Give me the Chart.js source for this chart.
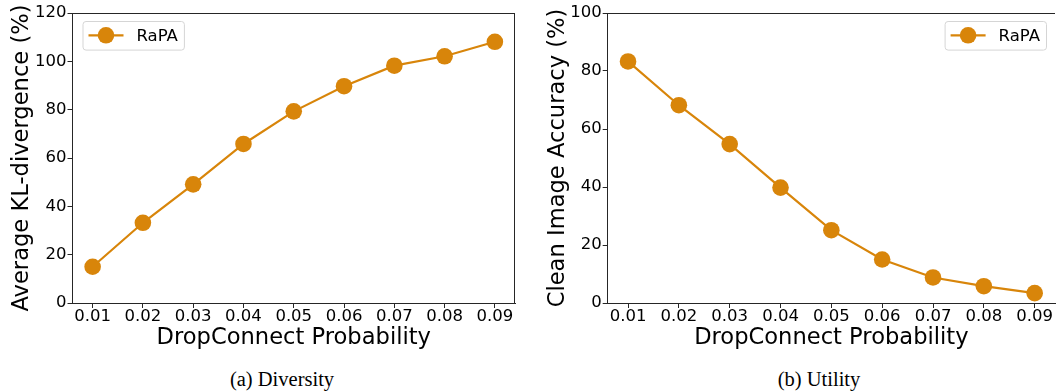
<!DOCTYPE html>
<html><head><meta charset="utf-8">
<script src="https://cdn.jsdelivr.net/npm/chart.js@4.4.1/dist/chart.umd.min.js"></script>
<style>
body{margin:0;background:#fff;width:1056px;height:392px;overflow:hidden;position:relative;}
canvas{position:absolute;top:0}
.cap{position:absolute;font-family:"Liberation Serif","Times New Roman",serif;font-size:20.5px;line-height:22px;text-align:center;width:300px;color:#000}
</style></head><body>
<canvas id="c1" width="530" height="360" style="left:0"></canvas>
<canvas id="c2" width="526" height="360" style="left:530px"></canvas>
<div class="cap" style="left:132px;top:368px">(a) Diversity</div>
<div class="cap" style="left:669px;top:368px">(b) Utility</div>
<script>
const dropProb = [0.01, 0.02, 0.03, 0.04, 0.05, 0.06, 0.07, 0.08, 0.09];
const xTickLabels = ['0.01','0.02','0.03','0.04','0.05','0.06','0.07','0.08','0.09'];
const klDivergence = [15.0, 33.2, 49.1, 65.8, 79.3, 89.7, 98.2, 102.1, 108.1];
const cleanAccuracy = [83.3, 68.2, 54.8, 39.8, 25.1, 15.0, 8.8, 5.8, 3.4];
const yTicksA = [0, 20, 40, 60, 80, 100, 120];
const yTicksB = [0, 20, 40, 60, 80, 100];
const seriesName = 'RaPA';
const xTitle = 'DropConnect Probability';
const yTitleA = 'Average KL-divergence (%)';
const yTitleB = 'Clean Image Accuracy (%)';

const ORANGE = '#d8850a';
const SPINE = '#262626';
const FONT = '"DejaVu Sans", sans-serif';

const framePlugin = {
  id: 'frameLegend',
  afterDraw(chart, args, opts) {
    const ctx = chart.ctx, ca = chart.chartArea;
    ctx.save();
    ctx.strokeStyle = SPINE; ctx.lineWidth = 1;
    ctx.beginPath();
    ctx.moveTo(ca.left, ca.top + 0.5); ctx.lineTo(ca.right, ca.top + 0.5);
    if (opts.drawRight) { ctx.moveTo(ca.right - 0.5, ca.top); ctx.lineTo(ca.right - 0.5, ca.bottom); }
    ctx.stroke();
    const ds = chart.data.datasets[0];
    ctx.font = '16.5px ' + FONT;
    const tw = ctx.measureText(ds.label).width;
    const padX = 6, lineLen = 35, gap = 13, h = 28.6;
    const w = padX + lineLen + gap + tw + padX;
    const bx = opts.side === 'left' ? ca.left + 10 : ca.right - 9 - w;
    const by = ca.top + 8;
    ctx.beginPath();
    ctx.roundRect(bx + 0.5, by + 0.5, w, h, 3);
    ctx.fillStyle = 'rgba(255,255,255,0.8)'; ctx.fill();
    ctx.strokeStyle = '#d5d5d5'; ctx.stroke();
    const ly = by + h / 2;
    ctx.strokeStyle = ds.borderColor; ctx.lineWidth = 2.2;
    ctx.beginPath(); ctx.moveTo(bx + padX, ly); ctx.lineTo(bx + padX + lineLen, ly); ctx.stroke();
    ctx.fillStyle = ds.pointBackgroundColor;
    ctx.beginPath(); ctx.arc(bx + padX + lineLen / 2, ly, 8.3, 0, Math.PI * 2); ctx.fill();
    ctx.fillStyle = '#000'; ctx.textBaseline = 'alphabetic'; ctx.textAlign = 'left';
    ctx.fillText(ds.label, bx + padX + lineLen + gap, ly + 5.9);
    ctx.restore();
  }
};

function makeChart(id, yVals, yTicks, yTitle, yWidth, yTitlePad, side, drawRight, padRight) {
  const pts = dropProb.map((x, i) => ({ x: x, y: yVals[i] }));
  return new Chart(document.getElementById(id), {
    type: 'line',
    data: { datasets: [{
      label: seriesName, data: pts,
      borderColor: ORANGE, backgroundColor: ORANGE, borderWidth: 2.2,
      pointRadius: 8.3, pointHoverRadius: 8.3, pointBackgroundColor: ORANGE, pointBorderWidth: 0,
      tension: 0, clip: false
    }]},
    options: {
      responsive: false, animation: false, devicePixelRatio: 1,
      layout: { autoPadding: false, padding: { top: 13, right: padRight, left: 0, bottom: 0 } },
      plugins: { legend: { display: false }, tooltip: { enabled: false },
        frameLegend: { side: side, drawRight: drawRight } },
      scales: {
        x: {
          type: 'linear', min: 0.006, max: 0.094,
          afterBuildTicks: s => { s.ticks = dropProb.map(v => ({ value: v })); },
          afterFit: s => { s.height = 57; s.paddingLeft = 0; s.paddingRight = 0; },
          ticks: { callback: (v) => xTickLabels[dropProb.findIndex(d => Math.abs(d - v) < 1e-9)],
            font: { family: FONT, size: 16.5, lineHeight: 1 }, color: '#000', padding: 0, maxRotation: 0, autoSkip: false },
          grid: { display: true, drawOnChartArea: false, drawTicks: true, tickLength: 5, tickColor: SPINE },
          border: { display: true, color: SPINE, width: 1 },
          title: { display: true, text: xTitle, font: { family: FONT, size: 22.6 }, color: '#000', padding: { top: 0, bottom: 8 } }
        },
        y: {
          type: 'linear', min: yTicks[0], max: yTicks[yTicks.length - 1],
          afterBuildTicks: s => { s.ticks = yTicks.map(v => ({ value: v })); },
          afterFit: s => { s.width = yWidth; s.paddingTop = 0; s.paddingBottom = 0; },
          ticks: { font: { family: FONT, size: 16.5 }, color: '#000', padding: 1 },
          grid: { display: true, drawOnChartArea: false, drawTicks: true, tickLength: 5, tickColor: SPINE },
          border: { display: true, color: SPINE, width: 1 },
          title: { display: true, text: yTitle, font: { family: FONT, size: 22.6 }, color: '#000', padding: { top: yTitlePad, bottom: 0 } }
        }
      }
    },
    plugins: [framePlugin]
  });
}

makeChart('c1', klDivergence, yTicksA, yTitleA, 72.5, 9, 'left', true, 15);
makeChart('c2', cleanAccuracy, yTicksB, yTitleB, 77.7, 15, 'right', false, 1);
</script>
</body></html>
